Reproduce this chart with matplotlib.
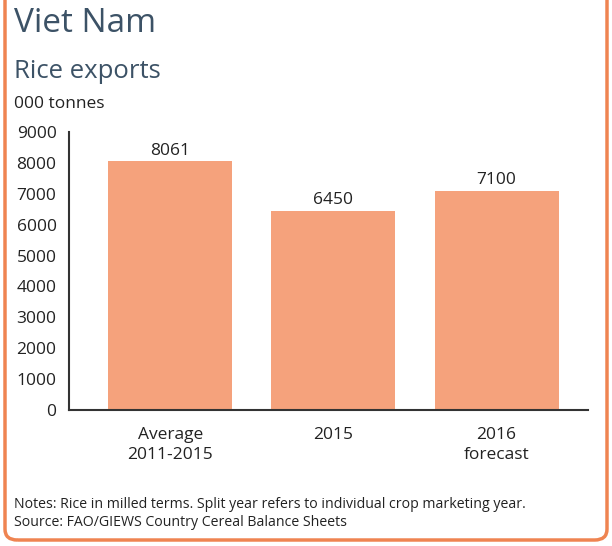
import matplotlib.pyplot as plt
from matplotlib.patches import FancyBboxPatch

categories = ["Average\n2011-2015", "2015", "2016\nforecast"]
exports = [8061, 6450, 7100]
yticks = [0, 1000, 2000, 3000, 4000, 5000, 6000, 7000, 8000, 9000]

BAR = "#F5A27C"
FRAME = "#EF8451"
TITLE = "#3C5266"
TEXT = "#222222"

plt.rcParams["font.family"] = ["Open Sans", "DejaVu Sans"]

fig = plt.figure(figsize=(6.12, 5.46), dpi=100)

# rounded orange frame, open at the top edge
frame = FancyBboxPatch((5 / 612, 6 / 546), 602 / 612, 560 / 546,
                       boxstyle="round,pad=0,rounding_size=0.02",
                       transform=fig.transFigure, facecolor="none",
                       edgecolor=FRAME, linewidth=2.5, zorder=0)
fig.patches.append(frame)

fig.text(14 / 612, 1 - 24 / 546, "Viet Nam", fontsize=24, color=TITLE, va="center")
fig.text(14 / 612, 1 - 71 / 546, "Rice exports", fontsize=18.5, color=TITLE, va="center")
fig.text(14 / 612, 1 - 104 / 546, "000 tonnes", fontsize=12.5, color=TEXT, va="center")

ax = fig.add_axes([69 / 612, 136 / 546, 519 / 612, 278 / 546])
ax.set_facecolor("none")
x = range(len(categories))
bars = ax.bar(x, exports, width=0.76, color=BAR, zorder=2)
for b, v in zip(bars, exports):
    ax.text(b.get_x() + b.get_width() / 2, v + 80, str(v),
            ha="center", va="bottom", fontsize=12.5, color=TEXT)

ax.set_xlim(-0.62, 2.56)
ax.set_ylim(0, 9000)
ax.set_yticks(yticks)
ax.set_xticks(list(x))
ax.set_xticklabels(categories, fontsize=12.5, color=TEXT, linespacing=1.35)
ax.tick_params(axis="y", length=0, pad=9, labelsize=12.5, labelcolor=TEXT)
ax.tick_params(axis="x", length=0, pad=12)
for s in ["top", "right"]:
    ax.spines[s].set_visible(False)
for s in ["left", "bottom"]:
    ax.spines[s].set_color("#333333")
    ax.spines[s].set_linewidth(1.5)

fig.text(14 / 612, 1 - 505 / 546,
         "Notes: Rice in milled terms. Split year refers to individual crop marketing year.",
         fontsize=10.2, color=TEXT, va="center")
fig.text(14 / 612, 1 - 522 / 546, "Source: FAO/GIEWS Country Cereal Balance Sheets",
         fontsize=10.2, color=TEXT, va="center")

fig.savefig("out.png", dpi=100)
